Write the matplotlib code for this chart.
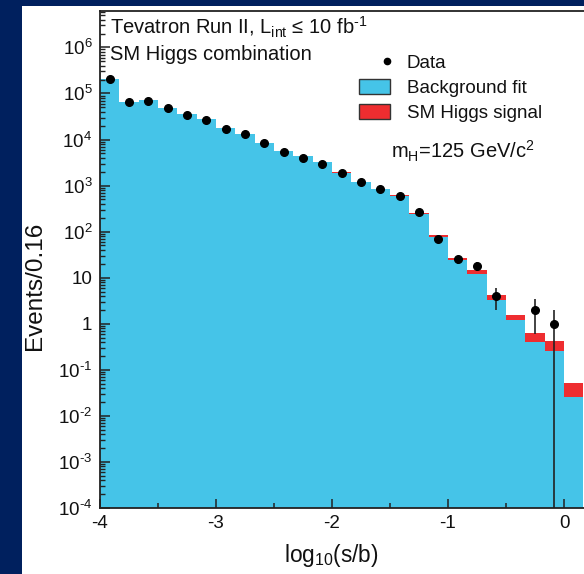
import numpy as np
import matplotlib.pyplot as plt
from matplotlib.lines import Line2D
from matplotlib.patches import Patch, Rectangle
from matplotlib.legend_handler import HandlerLine2D
from matplotlib.ticker import FixedLocator, MultipleLocator, LogLocator, FuncFormatter, NullFormatter

plt.rcParams['font.family'] = 'Liberation Sans'
plt.rcParams['mathtext.fontset'] = 'custom'
plt.rcParams['mathtext.rm'] = 'Liberation Sans'
plt.rcParams['mathtext.it'] = 'Liberation Sans:italic'
plt.rcParams['axes.unicode_minus'] = False

############### BINNED VALUES ###############
x_min = -4.0
bin_width = 1 / 6
n_bins = 25

background = [2.07e5, 6.6e4, 7.2e4, 4.9e4, 3.6e4, 2.8e4, 1.76e4, 1.32e4, 8.5e3, 5.6e3,
              4.3e3, 3.2e3, 1.9e3, 1.18e3, 830, 590, 245, 77, 24.5, 12.3,
              3.2, 1.18, 0.41, 0.26, 0.026]
signal = [25, 12, 19, 19, 20, 23, 21, 23, 22, 21,
          24, 27, 23, 21, 22, 23, 14, 7, 2.4, 2.5,
          1.06, 0.39, 0.23, 0.17, 0.025]
data = [2.1e5, 6.4e4, 7.0e4, 4.8e4, 3.4e4, 2.7e4, 1.73e4, 1.3e4, 8.3e3, 5.4e3,
        4.0e3, 3.0e3, 1.86e3, 1.18e3, 850, 580, 270, 69, 25, 18,
        4, 0, 2, 1, 0]

x_ticks = [-4, -3, -2, -1, 0]
x_ticklabels = ['-4', '-3', '-2', '-1', '0']

BLUE = '#45C4E8'
RED = '#EE2D30'
NAVY = '#00205E'
INK = '#111111'

############### FIGURE ###############
W, H = 584, 574
fig = plt.figure(figsize=(W / 100, H / 100), dpi=100)
fig.patch.set_facecolor(NAVY)
fig.add_artist(Rectangle((22 / W, 0), 1 - 22 / W, 1 - 6 / H, transform=fig.transFigure,
                         facecolor='white', edgecolor='none', zorder=0))

ax = fig.add_axes([100 / W, 66 / H, 484 / W, 497 / H])
ax.set_facecolor('white')

edges = x_min + bin_width * np.arange(n_bins + 1)
centers = 0.5 * (edges[:-1] + edges[1:])
background = np.array(background)
total = background + np.array(signal)
data = np.array(data, dtype=float)

y_lo, y_hi = 1e-4, 10 ** 6.79

# stacked histogram: signal on top of background
ax.stairs(total, edges, baseline=y_lo, fill=True, color=RED, lw=0, zorder=1)
ax.stairs(background, edges, baseline=y_lo, fill=True, color=BLUE, lw=0, zorder=1.1)

mask = data > 0
data_err = np.sqrt(data)
ax.errorbar(centers[mask], data[mask], yerr=data_err[mask], fmt='o', color='black',
            ecolor='#222222', elinewidth=1.2, markersize=5.5, capsize=0, zorder=3)

ax.set_yscale('log')
ax.set_xlim(x_min, x_min + 484 / 116)
ax.set_ylim(y_lo, y_hi)

############### AXES STYLE ###############
ax.spines['right'].set_visible(False)
for side in ['left', 'bottom', 'top']:
    ax.spines[side].set_color('#222222')
    ax.spines[side].set_linewidth(1.3)
    ax.spines[side].set_zorder(4)

ax.xaxis.set_major_locator(FixedLocator(x_ticks))
ax.set_xticklabels(x_ticklabels)
ax.xaxis.set_minor_locator(MultipleLocator(0.5))

def decade_label(v, pos):
    n = int(round(np.log10(v)))
    if n == 0:
        return '1'
    if n == 1:
        return '10'
    return r'$\mathregular{10^{\text{%d}}}$' % n

ax.yaxis.set_major_locator(LogLocator(base=10, numticks=20))
ax.yaxis.set_minor_locator(LogLocator(base=10, subs=np.arange(2, 10), numticks=20))
ax.yaxis.set_major_formatter(FuncFormatter(decade_label))
ax.yaxis.set_minor_formatter(NullFormatter())

ax.tick_params(which='both', direction='in', colors='#222222', labelcolor=INK,
               labelsize=13.5, top=False, right=False)
ax.tick_params(axis='x', which='major', length=6.5, width=1.1, pad=5)
ax.tick_params(axis='x', which='minor', length=3.6, width=1.1)
ax.tick_params(axis='y', which='major', length=7, width=1.1, pad=5.5)
ax.tick_params(axis='y', which='minor', length=3.6, width=1.0)

fig.text(331 / W, 1 - 562 / H, r'log$_{10}$(s/b)', ha='center', va='baseline',
         fontsize=16.3, color=INK)
fig.text(35 / W, 1 - 286 / H, 'Events/0.16', rotation=90, ha='center', va='center',
         fontsize=17.5, color=INK)

############### ANNOTATIONS ###############
fig.text(110 / W, 1 - 35 / H, r'Tevatron Run II, L$_{\rm int}$ ≤ 10 fb$^{\text{-1}}$',
         ha='left', va='baseline', fontsize=14.5, color=INK)
fig.text(110 / W, 1 - 60 / H, 'SM Higgs combination', ha='left', va='baseline',
         fontsize=14.5, color=INK)
fig.text(391 / W, 1 - 158 / H, r'm$_{\rm H}$=125 GeV/c$^{\rm 2}$', ha='left',
         va='baseline', fontsize=14.5, color=INK)

# legend, with the data marker sitting at the right end of its slot
class RightMarker(HandlerLine2D):
    def get_xdata(self, legend, xdescent, ydescent, width, height, fontsize):
        x_end = width - xdescent
        xdata = np.array([x_end - 6.0, x_end + 2.0])
        return xdata, xdata

handles = [
    Line2D([], [], marker='o', ls='none', color='black', markersize=4.5),
    Patch(facecolor=BLUE, edgecolor='#333333', linewidth=1.0),
    Patch(facecolor=RED, edgecolor='#333333', linewidth=1.0),
]
labels = ['Data', 'Background fit', 'SM Higgs signal']
leg = fig.legend(handles, labels, loc='upper left', bbox_to_anchor=(359 / W, 1 - 54 / H),
                 frameon=False, fontsize=13.5, handlelength=1.65, handleheight=0.9,
                 handletextpad=0.9, labelspacing=0.35, borderpad=0, borderaxespad=0,
                 handler_map={handles[0]: RightMarker(numpoints=1)})
for t in leg.get_texts():
    t.set_color(INK)

fig.savefig('out.png', dpi=100, facecolor=fig.get_facecolor())
